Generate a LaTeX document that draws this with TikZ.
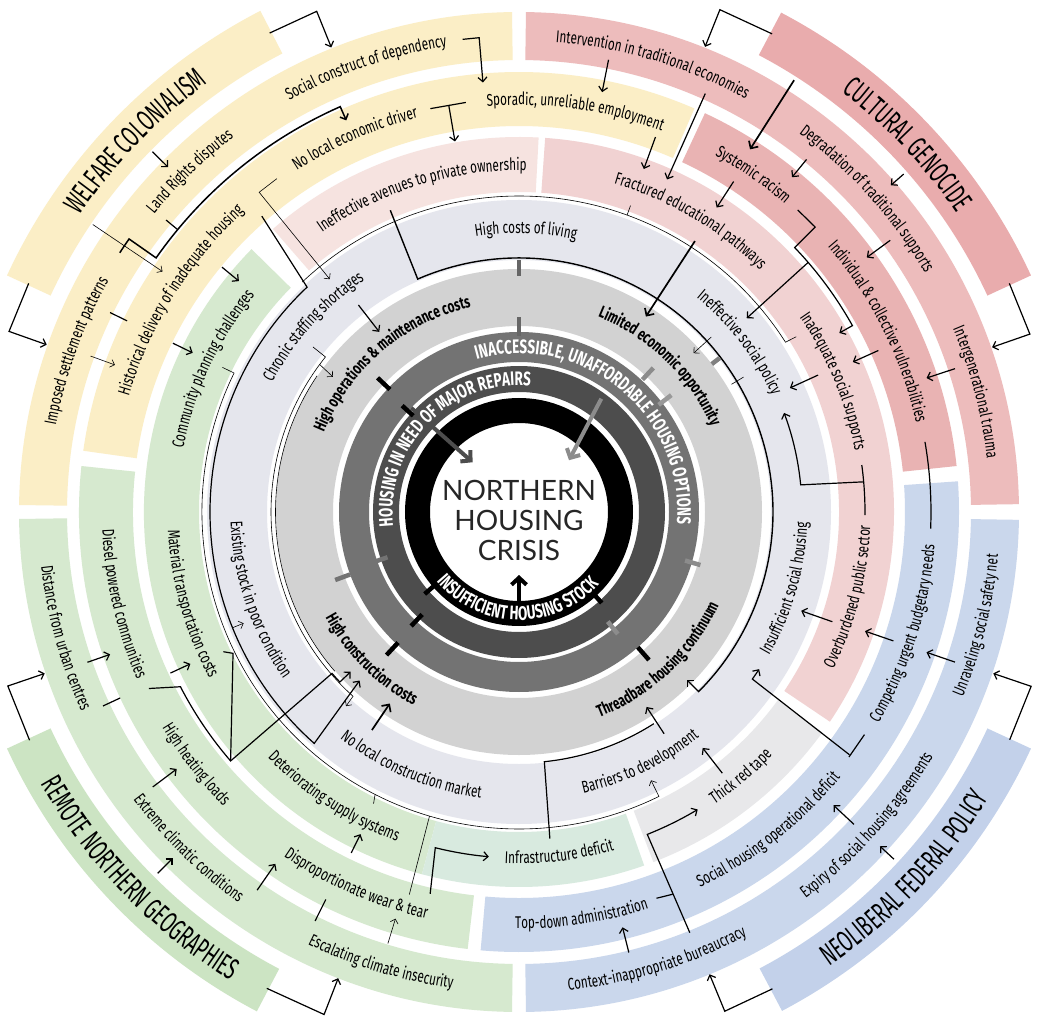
\documentclass[tikz,border=0pt]{standalone}
\usepackage{fontspec}
\newfontfamily\lblfont{Fira Sans}[FakeStretch=0.69]
\newfontfamily\titfont{Fira Sans}[FakeStretch=0.594]
\newfontfamily\ringfont{Fira Sans}[FakeStretch=0.69]
\newfontfamily\ctrfont{Lato}
\usetikzlibrary{decorations.text,arrows.meta}
\definecolor{yel}{HTML}{FBEEC6}
\definecolor{pinkT}{HTML}{E9ACAD}
\definecolor{pinkA}{HTML}{EDBCBC}
\definecolor{pinkB}{HTML}{E9B3B3}
\definecolor{pinkC}{HTML}{F1D2D2}
\definecolor{pinkL}{HTML}{F6E3E0}
\definecolor{gre}{HTML}{D6E9CF}
\definecolor{greI}{HTML}{D8EADF}
\definecolor{greT}{HTML}{CCE4C3}
\definecolor{blu}{HTML}{CAD7EC}
\definecolor{bluT}{HTML}{C3D1EA}
\definecolor{grayL}{HTML}{E8E8EA}
\definecolor{bthree}{HTML}{E5E6ED}
\definecolor{bfour}{HTML}{D2D2D2}
\definecolor{medg}{HTML}{737373}
\definecolor{darkg}{HTML}{4D4D4D}
\newcommand\fLab{\lblfont\fontsize{17}{19}\selectfont}
\newcommand\fBold{\lblfont\bfseries\fontsize{17}{19}\selectfont}
\newcommand\fTit{\titfont\fontsize{30}{32}\selectfont}
\newcommand\fRing{\ringfont\bfseries\fontsize{19.5}{21}\selectfont\color{white}}
% color, r_in, r_out, a1, a2
\newcommand\bandseg[5]{\fill[#1] (#4:#2) arc[start angle=#4,end angle=#5,radius=#2pt] -- (#5:#3) arc[start angle=#5,end angle=#4,radius=#3pt] -- cycle;}
% font, centre angle, baseline radius, half span, text
\newcommand\cwt[5]{\path[decorate,decoration={text along path,text align=center,text={|#1|#5}}] ({#2+#4}:#3) arc[start angle={#2+#4},end angle={#2-#4},radius=#3pt];}
\newcommand\ccwt[5]{\path[decorate,decoration={text along path,text align=center,text={|#1|#5}}] ({#2-#4}:#3) arc[start angle={#2-#4},end angle={#2+#4},radius=#3pt];}
\newcommand\radarr[4][arr]{\draw[#1] (#2:#3) -- (#2:#4);}
\newcommand\ringbar[4]{\draw[line width=4.5pt,#1] (#2:#3) -- (#2:#4);}
\begin{document}
\begin{tikzpicture}[x=1pt,y=1pt,
  ln/.style={line width=1.2pt,line join=miter},
  arr/.style={ln,-{Straight Barb[length=4.5pt,width=9pt]}},
  tln/.style={line width=0.6pt},
  tarr/.style={tln,-{Straight Barb[length=4pt,width=8pt]}},
  harr/.style={line width=1.7pt,-{Straight Barb[length=5.5pt,width=11pt]}},
  bigarr/.style={line width=4pt,-{Straight Barb[length=7pt,width=15pt]}}]
\useasboundingbox (-519,-513) rectangle (519,512);
\fill[white] (-519,-513) rectangle (519,512);
% ---- title bands
\bandseg{yel}{516}{564}{117.3}{155.2}
\bandseg{pinkT}{516}{564}{24.8}{62.3}
\bandseg{greT}{516}{564}{204.8}{242.3}
\bandseg{bluT}{516}{564}{-62.2}{-24.8}
% ---- band 0
\bandseg{yel}{452}{500}{90.8}{179.2}
\bandseg{pinkA}{452}{500}{0.9}{89.2}
\bandseg{blu}{452}{500}{-89.2}{-0.9}
\bandseg{gre}{452}{500}{180.8}{269.2}
% ---- band 1
\bandseg{yel}{386}{440}{66.5}{172}
\bandseg{pinkB}{386}{440}{6}{65}
\bandseg{blu}{386}{440}{-95}{4}
\bandseg{gre}{386}{440}{174}{263.3}
% ---- band 2
\bandseg{pinkL}{320}{375}{87}{131}
\bandseg{pinkC}{320}{375}{-34}{86}
\bandseg{grayL}{320}{375}{-69}{-36}
\bandseg{gre}{320}{375}{135.5}{255}
\bandseg{greI}{320}{375}{255}{289.5}
% ---- inner rings
\fill[bthree,even odd rule] (0,0) circle[radius=312pt] (0,0) circle[radius=252pt];
\fill[bfour,even odd rule] (0,0) circle[radius=243pt] (0,0) circle[radius=186pt];
\fill[medg,even odd rule] (0,0) circle[radius=180pt] (0,0) circle[radius=150pt];
\fill[darkg,even odd rule] (0,0) circle[radius=146pt] (0,0) circle[radius=120pt];
\fill[black,even odd rule] (0,0) circle[radius=114pt] (0,0) circle[radius=89pt];
% ---- title brackets
\draw[arr] (117.5:540) -- (112:540) -- (112:501);
\draw[arr] (155:541) -- (160.5:541) -- (160.5:501);
\draw[arr] (62.1:541) -- (68.2:541) -- (68.2:501);
\draw[arr] (25:541) -- (19.2:541) -- (19.2:501);
\draw[arr] (205:540) -- (198.8:540) -- (198.8:501);
\draw[arr] (242.1:539) -- (248.8:539) -- (248.8:500);
\draw[arr] (-24.9:541) -- (-18.8:541) -- (-18.8:501);
\draw[arr] (-62:540) -- (-67.6:540) -- (-67.6:500);
% ---- radial arrows
\radarr{135.5}{514}{492}
\radarr[tarr]{146}{514}{430}
\radarr[tarr]{160}{456}{430}
\radarr{140.5}{385}{363}
\radarr{154}{385}{363}
\radarr{127.8}{262}{228}
\radarr[harr]{57.5}{512}{430}
\radarr{41.3}{512}{495}
\radarr{50.8}{455}{432}
\radarr{36.2}{460}{431}
\radarr{18.2}{459}{429}
\radarr{24.2}{394}{366}
\radarr{24.6}{329}{298}
\radarr{57}{394}{363}
\radarr[harr]{57}{323}{233}
\radarr[tarr]{42.3}{260}{236}
\radarr{78.8}{461}{428}
\radarr{66}{458}{364}
\radarr{70}{399}{365}
\radarr{-19}{461}{431}
\radarr{-19}{396}{366}
\radarr{-19.3}{332}{299}
\radarr{-43}{458}{430}
\radarr{-42.8}{511}{492}
\radarr{-52.1}{331}{299}
\radarr{-56.8}{265}{233}
\radarr{-76}{454}{428}
\radarr{199.2}{457}{433}
\radarr{204.8}{384}{362}
\radarr{216.9}{458}{428}
\radarr{225}{511}{490}
\radarr{235.3}{460}{428}
\radarr{243.8}{380}{359}
\radarr[tarr]{253.1}{451}{425}
\radarr[harr]{236}{263}{231}
\radarr[tarr]{202}{309}{297}
% ---- ticks
\draw[ln] (140.4:458) -- (140.4:443);
\draw[ln] (154:455) -- (154:436);
\draw[ln] (205:459) -- (205:440);
\draw[ln] (243.5:457) -- (243.5:433);
\draw[tln] (31:262) -- (31:248);
\draw[tln] (70:316) -- (70:326);
\draw[tln] (243:317) -- (243.5:326);
% ---- longer connectors
\draw[arr] (96.8:476) -- (94.8:476) -- (94.8:431);
\draw[ln] (102.4:413) -- (97.4:413);
\draw[arr] (99.8:413) -- (99.8:376);
\draw[arr,line width=1.5pt] (147:476) arc[start angle=147,end angle=145,radius=476pt] -- (145:443) arc[start angle=145,end angle=113.8,radius=443pt] -- (113.8:428);
\draw[tarr] (126:412) -- (129.1:412) -- (129.1:300);
\draw[arr] (131:392) -- (133.3:309) arc[start angle=133.3,end angle=228.5,radius=309pt] -- (226.6:232);
\draw[tln] (133.3:316) arc[start angle=133.3,end angle=32.5,radius=316pt] -- (32.3:328);
\draw[tarr] (154:330) -- (154:317) arc[start angle=154,end angle=296.2,radius=317pt] -- (296.2:299);
\draw[tln] (254:398) -- (253.6:317);
\draw[arr,line width=1.4pt] (113.1:328) -- (113.5:254) arc[start angle=113.5,end angle=-45,radius=254pt] -- (-45:237);
\draw[ln] (-84.6:328) -- (-84.2:251) arc[start angle=-84.2,end angle=-57.5,radius=251pt];
\draw[arr] (-67.9:454) -- (-68.3:347) arc[start angle=-68.3,end angle=-59,radius=347pt];
\draw[ln] (-70.4:410) -- (-68.1:412);
\draw[arr] (256.9:392) -- (256:346) arc[start angle=256,end angle=265,radius=346pt];
\draw[ln] (-32.8:411) -- (-36.6:411);
\draw[arr] (-36.3:410) -- (-35.6:287) arc[start angle=-35.6,end angle=-33.2,radius=287pt];
\draw[ln] (9.8:412) arc[start angle=9.8,end angle=-2.3,radius=412pt];
\draw[ln] (7.8:346) arc[start angle=7.8,end angle=-0.5,radius=346pt];
\draw[arr] (5:346) -- (5.5:283) arc[start angle=5.5,end angle=20.5,radius=283pt];
\draw[arr] (47.3:411) -- (43.9:411) -- (43.8:382) arc[start angle=43.8,end angle=29.2,radius=382pt] -- (29.2:367);
\draw[arr] (40.8:382) -- (40.4:299);
\draw[arr] (205.5:410) -- (207.3:381) arc[start angle=207.3,end angle=220.8,radius=381pt] -- (220.8:247) arc[start angle=220.8,end angle=223.5,radius=247pt] -- (223.5:232);
\draw[ln] (205.3:327) -- (206.3:319) -- (220.8:381);
\draw[tarr] (141.3:264) -- (141.3:248) arc[start angle=141.3,end angle=228,radius=248pt] -- (228.3:260);
\draw[tln] (146:243.5) arc[start angle=146,end angle=220.8,radius=243.5pt];
\draw[tarr] (143.5:248) -- (144:230);
% ---- ring bars
\ringbar{black!60}{90}{176}{195}
\ringbar{black!60}{90}{236}{252}
\ringbar{black}{136.5}{178}{195}
\ringbar{black}{137.7}{143}{158}
\ringbar{black!45}{47}{181}{197}
\ringbar{black!40}{37.5}{176}{192}
\ringbar{black!50}{37.5}{243}{253}
\ringbar{black!45}{-16.3}{173}{189}
\ringbar{black}{-48.7}{180}{197}
\ringbar{black!45}{-51}{141}{157}
\ringbar{black}{226.6}{141}{157}
\ringbar{black}{227.2}{178}{195}
\ringbar{black!55}{200.3}{180}{196}
\ringbar{black!55}{199}{139}{155}
\ringbar{black}{221}{113}{125}
\ringbar{black}{-47.7}{111}{123}
% ---- centre arrows
\draw[bigarr,darkg] (136:150) -- (133:68);
\draw[bigarr,black!45] (54:140) -- (46:72);
\draw[bigarr,black] (270:100) -- (270:63);
\node[font=\ctrfont\fontsize{28}{30}\selectfont,align=center,text=black!85] (crisis) at (0,-8) {NORTHERN\\HOUSING\\CRISIS};
% ---- labels
\cwt{\fLab}{109}{471}{25}{Social construct of dependency}
\cwt{\fLab}{134}{471}{20}{Land Rights disputes}
\cwt{\fLab}{160}{471}{25}{Imposed settlement patterns}
\cwt{\fLab}{113.7}{407}{25}{No local economic driver}
\cwt{\fLab}{148}{407}{30}{Historical delivery of inadequate housing}
\cwt{\fLab}{82}{407}{25}{Sporadic, unreliable employment}
\cwt{\fLab}{155}{341.5}{30}{Community planning challenges}
\cwt{\fLab}{107}{341.5}{35}{Ineffective avenues to private ownership}
\cwt{\fLab}{138}{278.5}{30}{Chronic staffing shortages}
\cwt{\fLab}{88.6}{278.5}{25}{High costs of living}
\cwt{\fBold}{130.5}{210.5}{45}{High operations {\&} maintenance costs}
\cwt{\fBold}{46}{210.5}{40}{Limited economic opportunity}
\ccwt{\fBold}{-46.8}{220.5}{40}{Threadbare housing continuum}
\ccwt{\fBold}{225}{220.5}{35}{High construction costs}
\ccwt{\fLab}{198.6}{288.5}{30}{Existing stock in poor condition}
\ccwt{\fLab}{247}{288.5}{30}{No local construction market}
\ccwt{\fLab}{-64.2}{288.5}{25}{Barriers to development}
\ccwt{\fLab}{-16}{288.5}{25}{Insufficient social housing}
\cwt{\fLab}{37.5}{278.5}{25}{Ineffective social policy}
\cwt{\fLab}{59.5}{341.5}{30}{Fractured educational pathways}
\cwt{\fLab}{22.6}{341.5}{25}{Inadequate social supports}
\cwt{\fLab}{55.2}{407}{15}{Systemic racism}
\cwt{\fLab}{26.7}{407}{25}{Individual {\&} collective vulnerabilities}
\cwt{\fLab}{73.4}{471}{25}{Intervention in traditional economies}
\cwt{\fLab}{42}{471}{25}{Degradation of traditional supports}
\cwt{\fLab}{14.7}{471}{20}{Intergenerational trauma}
\ccwt{\fLab}{-14.4}{351.5}{25}{Overburdened public sector}
\ccwt{\fLab}{-17.5}{417}{25}{Competing urgent budgetary needs}
\ccwt{\fLab}{-13.9}{481}{20}{Unraveling social safety net}
\ccwt{\fLab}{-51.9}{417}{25}{Social housing operational deficit}
\ccwt{\fLab}{-50}{351.5}{15}{Thick red tape}
\ccwt{\fLab}{-83.3}{351.5}{20}{Infrastructure deficit}
\ccwt{\fLab}{237}{351.5}{25}{Deteriorating supply systems}
\ccwt{\fLab}{195.6}{351.5}{25}{Material transportation costs}
\ccwt{\fLab}{193}{417}{25}{Diesel powered communities}
\ccwt{\fLab}{218}{417}{15}{High heating loads}
\ccwt{\fLab}{246.4}{417}{25}{Disproportionate wear {\&} tear}
\ccwt{\fLab}{-81.2}{417}{20}{Top-down administration}
\ccwt{\fLab}{195.5}{481}{20}{Distance from urban centres}
\ccwt{\fLab}{225.5}{481}{20}{Extreme climatic conditions}
\ccwt{\fLab}{253}{481}{20}{Escalating climate insecurity}
\ccwt{\fLab}{-72.9}{481}{25}{Context-inappropriate bureaucracy}
\ccwt{\fLab}{-42}{481}{25}{Expiry of social housing agreements}
\cwt{\fTit}{136}{530}{25}{WELFARE COLONIALISM}
\cwt{\fTit}{43.4}{530}{25}{CULTURAL GENOCIDE}
\ccwt{\fTit}{224}{550}{25}{REMOTE NORTHERN GEOGRAPHIES}
\ccwt{\fTit}{-43.5}{550}{25}{NEOLIBERAL FEDERAL POLICY}
\cwt{\fRing}{135.6}{126.5}{85}{HOUSING IN NEED OF MAJOR REPAIRS}
\cwt{\fRing}{50.6}{158.5}{85}{INACCESSIBLE, UNAFFORDABLE HOUSING OPTIONS}
\ccwt{\fRing}{269}{108}{80}{INSUFFICIENT HOUSING STOCK}
\end{tikzpicture}
\end{document}
